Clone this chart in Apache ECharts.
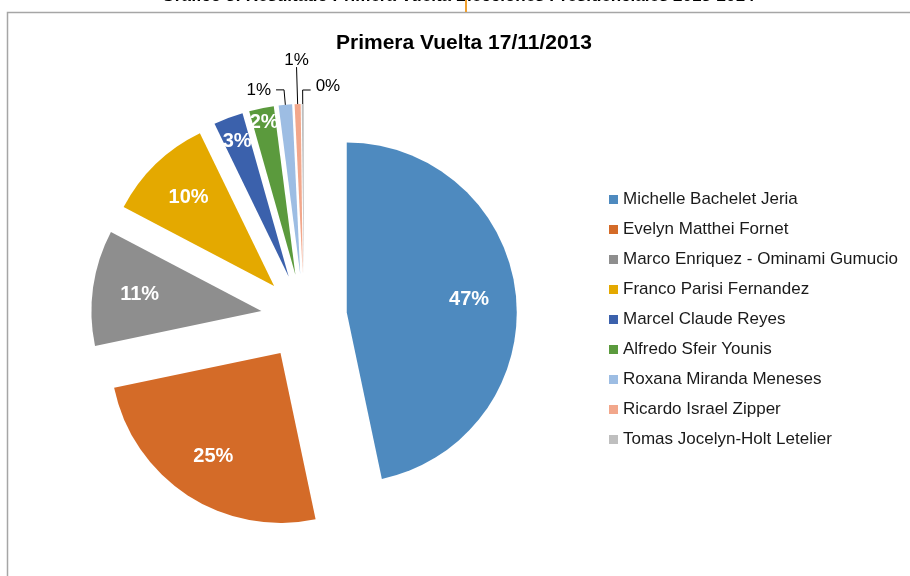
<!DOCTYPE html>
<html lang="es">
<head>
<meta charset="utf-8">
<title>Primera Vuelta 17/11/2013</title>
<style>
  html, body {margin:0; padding:0; background:#fff;}
  #chart {width:910px; height:576px;}
</style>
</head>
<body>
<div id="chart"></div>
<script src="https://cdn.jsdelivr.net/npm/echarts@6/dist/echarts.min.js"></script>
<script>
var candidatos = [
    'Michelle Bachelet Jeria',
    'Evelyn Matthei Fornet',
    'Marco Enriquez - Ominami Gumucio',
    'Franco Parisi Fernandez',
    'Marcel Claude Reyes',
    'Alfredo Sfeir Younis',
    'Roxana Miranda Meneses',
    'Ricardo Israel Zipper',
    'Tomas Jocelyn-Holt Letelier'
];
var porcentajes = [46.70, 25.03, 10.99, 10.11, 2.81, 2.35, 1.27, 0.57, 0.19];
var colores = ['#4E8ABF', '#D46B28', '#8E8E8E', '#E4A900', '#3B61AC', '#5B9A3D', '#9DBDE3', '#F2A78B', '#BFBFBF'];

// etiquetas fuera de la torta: [largo radial, largo horizontal]
var lineas = { 6: [15, 8], 7: [37, 0], 8: [14, 8] };

var centro = [304, 317];
var radio = 170;
var despl = 43;
var fuente = 'Liberation Sans, Arial';

var myChart = echarts.init(document.getElementById('chart'));

function datos(fn) {
    return candidatos.map(function (n, i) {
        return fn(n, i);
    });
}

var serieBase = {
    type: 'pie',
    center: centro,
    startAngle: 90,
    clockwise: true,
    selectedMode: 'multiple',
    selectedOffset: despl,
    avoidLabelOverlap: false,
    percentPrecision: 0,
    animation: false,
    emphasis: {disabled: true},
    select: {itemStyle: {borderWidth: 0}},
    labelLayout: {hideOverlap: false}
};

// torta visible (todas las porciones separadas)
var torta = Object.assign({}, serieBase, {
    name: 'Primera Vuelta',
    radius: [0, radio],
    label: {show: false},
    labelLine: {show: false},
    data: datos(function (n, i) {
        return {name: n, value: porcentajes[i], selected: true, itemStyle: {color: colores[i]}};
    })
});

// series transparentes solo para ubicar las etiquetas interiores
function serieEtiquetas(r, indices) {
    return Object.assign({}, serieBase, {
        silent: true,
        radius: [0, r],
        z: 3,
        data: datos(function (n, i) {
            return {
                name: n, value: porcentajes[i], selected: true,
                itemStyle: {color: 'rgba(0,0,0,0)'},
                label: {
                    show: indices.indexOf(i) >= 0, position: 'inner', formatter: '{d}%',
                    color: '#fff', fontSize: 20, fontWeight: 'bold', fontFamily: fuente,
                    padding: [8, 0, 0, 0]
                },
                labelLine: {show: false}
            };
        })
    });
}

// etiquetas exteriores: torta transparente sin separar, con radio = radio + desplazamiento
var serieFuera = Object.assign({}, serieBase, {
    silent: true,
    selectedMode: false,
    radius: [0, radio + despl],
    z: 3,
    data: datos(function (n, i) {
        var item = {
            name: n, value: porcentajes[i],
            itemStyle: {color: 'rgba(0,0,0,0)'},
            label: {show: false},
            labelLine: {show: false}
        };
        if (lineas[i]) {
            item.label = {show: true, position: 'outside', formatter: '{d}%', color: '#000', fontSize: 17, fontFamily: fuente};
            item.labelLine = {show: true, length: lineas[i][0], length2: lineas[i][1], smooth: false, lineStyle: {color: '#000', width: 1}};
        }
        return item;
    }),
    labelLayout: function (p) {
        var pts = p.labelLinePoints;
        if (!pts) return {hideOverlap: false};
        var fin = pts[pts.length - 1];
        if (p.dataIndex === 7) {
            // texto centrado sobre la linea vertical
            return {x: fin[0], y: fin[1] + 2, align: 'center', verticalAlign: 'bottom', labelLinePoints: pts, hideOverlap: false};
        }
        if (p.dataIndex === 8) {
            // el tramo horizontal va hacia la derecha
            var codo = pts[1];
            var nuevoFin = [codo[0] + (codo[0] - fin[0]), fin[1]];
            return {x: nuevoFin[0] + 5, y: nuevoFin[1] - 4, align: 'left', verticalAlign: 'middle',
                labelLinePoints: [pts[0], codo, nuevoFin], hideOverlap: false};
        }
        return {hideOverlap: false};
    }
});

var option = {
    animation: false,
    title: {
        text: 'Primera Vuelta 17/11/2013',
        left: 459,
        top: 28,
        textAlign: 'center',
        textStyle: {fontSize: 21, fontWeight: 'bold', color: '#000', fontFamily: fuente}
    },
    legend: {
        orient: 'vertical',
        left: 609,
        top: 191,
        padding: 0,
        icon: 'rect',
        itemWidth: 9,
        itemHeight: 9,
        itemGap: 13,
        selectedMode: false,
        textStyle: {fontSize: 17, lineHeight: 16, color: '#1a1a1a', fontFamily: fuente},
        data: datos(function (n, i) {
            return {name: n, itemStyle: {color: colores[i]}};
        })
    },
    graphic: [
        {
            type: 'rect', silent: true,
            shape: {x: 7.5, y: 12.5, width: 1000, height: 700},
            style: {fill: null, stroke: '#A6A6A6', lineWidth: 1.5}
        },
        {
            type: 'text', silent: true, x: 458, y: 5,
            style: {
                text: 'Gráfico 3: Resultado Primera Vuelta Elecciones Presidenciales 2013-2014',
                align: 'center', verticalAlign: 'bottom',
                font: 'bold 17px "Liberation Sans", Arial', fill: '#000'
            }
        },
        {
            type: 'line', silent: true,
            shape: {x1: 466, y1: 0, x2: 466, y2: 12},
            style: {stroke: '#F0A030', lineWidth: 2}
        }
    ],
    series: [
        torta,
        serieEtiquetas(240, [0, 1, 2, 3]),
        serieEtiquetas(284, [4]),
        serieEtiquetas(306, [5]),
        serieFuera
    ]
};

myChart.setOption(option);
</script>
</body>
</html>
